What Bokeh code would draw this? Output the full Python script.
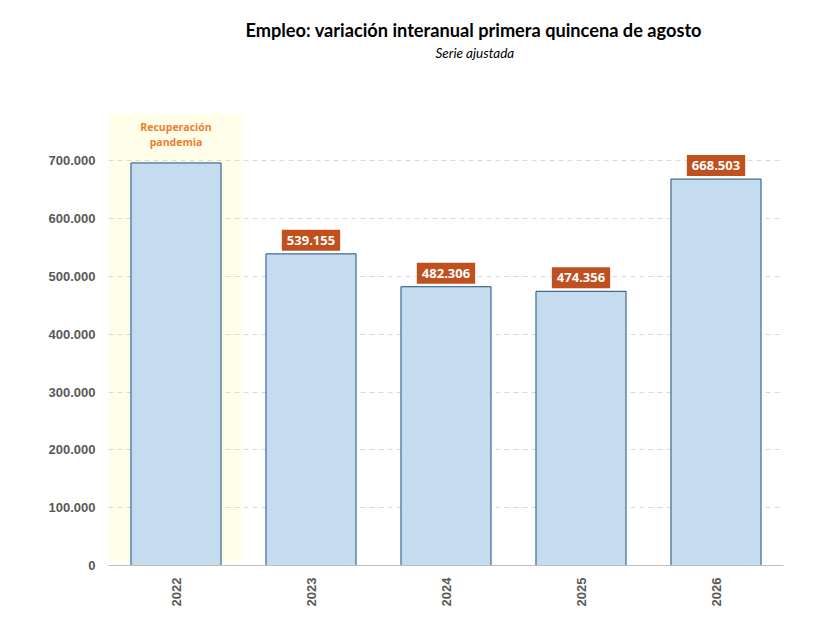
import math
from bokeh.plotting import figure
from bokeh.models import ColumnDataSource, BoxAnnotation, Title, FixedTicker, Range1d, FactorRange
from bokeh.core.properties import value
from bokeh.embed import file_html
from bokeh.resources import INLINE

# ---- data ----
years = ["2022", "2023", "2024", "2025", "2026"]
employment = [696500, 539155, 482306, 474356, 668503]
show_label = [False, True, True, True, True]
y_ticks = [0, 100000, 200000, 300000, 400000, 500000, 600000, 700000]
title_text = "Empleo: variación interanual primera quincena de agosto"
subtitle_text = "Serie ajustada"
highlight_year = "2022"
highlight_lines = ["Recuperación", "pandemia"]


def fmt(v):
    return f"{v:,}".replace(",", ".")


Y_MAX = 782000

p = figure(
    x_range=FactorRange(*years),
    y_range=Range1d(0, Y_MAX),
    width=812, height=623, title=None,
    output_backend="svg", toolbar_location=None,
    min_border_left=108, min_border_right=29,
    min_border_top=113, min_border_bottom=58,
    background_fill_color="white", border_fill_color="white",
)
p.outline_line_color = None

# highlight band
hi_idx = years.index(highlight_year)
band = BoxAnnotation(left=hi_idx, right=hi_idx + 0.985, bottom=Y_MAX * 0.009,
                     fill_color="#FFFFE9", fill_alpha=1.0, line_color=None, level="image")
p.add_layout(band)

# bars
src = ColumnDataSource(dict(year=years, val=employment))
p.vbar(x="year", top="val", width=0.667, source=src,
       fill_color="#C5DCF0", line_color="#1B4F7E", line_width=1)

# value labels
lab_years = [y for y, s in zip(years, show_label) if s]
lab_vals = [v for v, s in zip(employment, show_label) if s]
lab_src = ColumnDataSource(dict(year=lab_years, val=lab_vals, txt=[fmt(v) for v in lab_vals]))
p.text(x="year", y="val", text="txt", source=lab_src,
       text_align="center", text_baseline="bottom", y_offset=-3,
       text_color="white", text_font=value("Open Sans"), text_font_style="bold",
       text_font_size="13px", background_fill_color="#C0501E",
       padding=dict(left=5, right=5, top=6, bottom=6))

# highlight caption (one text per line, stacked down from the top of the frame)
n_lines = len(highlight_lines)
cap_src = ColumnDataSource(dict(
    x=[highlight_year] * n_lines,
    y=[Y_MAX] * n_lines,
    txt=highlight_lines,
    dy=[13 + 15 * i for i in range(n_lines)],
))
p.text(x="x", y="y", text="txt", y_offset="dy", source=cap_src,
       text_align="center", text_baseline="middle",
       text_color="#ED7D31", text_font=value("Open Sans"), text_font_style="bold",
       text_font_size="10.5px")

# axes
p.yaxis.ticker = FixedTicker(ticks=y_ticks)
p.yaxis.major_label_overrides = {t: fmt(t) for t in y_ticks}
p.yaxis.axis_line_color = None
p.yaxis.major_tick_line_color = None
p.yaxis.major_tick_out = 0
p.yaxis.major_tick_in = 0
p.yaxis.minor_tick_line_color = None
p.yaxis.major_label_standoff = 13
p.yaxis.major_label_text_font = "Liberation Sans"
p.yaxis.major_label_text_font_style = "bold"
p.yaxis.major_label_text_font_size = "13px"
p.yaxis.major_label_text_color = "#595959"

p.xaxis.axis_line_color = "#BFBFBF"
p.xaxis.major_tick_line_color = None
p.xaxis.major_tick_out = 0
p.xaxis.major_tick_in = 0
p.xaxis.minor_tick_line_color = None
p.xaxis.major_label_orientation = math.pi / 2
p.xaxis.major_label_standoff = 12
p.xaxis.major_label_text_font = "Liberation Sans"
p.xaxis.major_label_text_font_style = "bold"
p.xaxis.major_label_text_font_size = "13px"
p.xaxis.major_label_text_color = "#595959"

p.xgrid.grid_line_color = None
p.ygrid.ticker = FixedTicker(ticks=y_ticks)
p.ygrid.grid_line_color = "#D9D9D9"
p.ygrid.grid_line_dash = "5 4"

# titles (stacked outward from the frame: spacer, subtitle, title)
p.add_layout(Title(text=" ", text_font_size="32px"), "above")
p.add_layout(Title(text=subtitle_text, align="left", offset=327,
                   text_font="Lato", text_font_style="italic", text_font_size="13.5px",
                   text_color="black"), "above")
p.add_layout(Title(text=title_text, align="left", offset=137, standoff=-6,
                   text_font="Lato", text_font_style="bold", text_font_size="18.2px",
                   text_color="black"), "above")

open("out.html", "w").write(file_html(p, INLINE))
